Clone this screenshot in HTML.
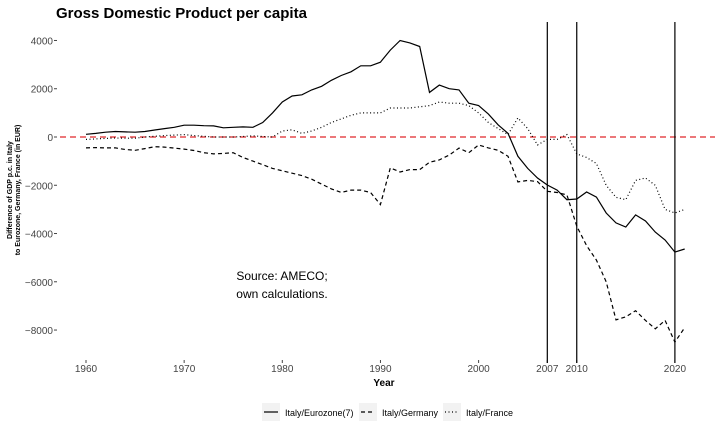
<!DOCTYPE html>
<html><head><meta charset="utf-8"><style>
body{margin:0;background:#fff;font-family:"Liberation Sans",sans-serif}
svg{display:block}
</style></head><body>
<svg id="chart" width="720" height="432" xmlns="http://www.w3.org/2000/svg" font-family="Liberation Sans, sans-serif">
<text x="56" y="18" font-size="15" font-weight="bold">Gross Domestic Product per capita</text>
<g id="axes"></g>
<g id="lines"></g>
<text x="282" y="280" font-size="12" text-anchor="middle">Source: AMECO;</text>
<text x="282" y="298" font-size="12" text-anchor="middle">own calculations.</text>
<text x="384" y="386" font-size="10" font-weight="bold" text-anchor="middle">Year</text>
<g transform="translate(12,190) rotate(-90)">
<text x="0" y="0" font-size="7" font-weight="bold" text-anchor="middle">Difference of GDP p.c. in Italy</text>
<text x="0" y="8" font-size="7" font-weight="bold" text-anchor="middle">to Eurozone, Germany, France (in EUR)</text>
</g>
<g>
<g><rect x="262" y="403" width="18" height="18" fill="#f2f2f2"/><line x1="264" y1="412" x2="278" y2="412" stroke="#000" stroke-width="1.2"/><text x="285" y="416" font-size="9">Italy/Eurozone(7)</text></g>
<g><rect x="359" y="403" width="18" height="18" fill="#f2f2f2"/><line x1="361" y1="412" x2="375" y2="412" stroke="#000" stroke-width="1.2" stroke-dasharray="4,3"/><text x="382" y="416" font-size="9">Italy/Germany</text></g>
<g><rect x="443" y="403" width="18" height="18" fill="#f2f2f2"/><line x1="445" y1="412" x2="459" y2="412" stroke="#000" stroke-width="1.2" stroke-dasharray="1,2.5"/><text x="466" y="416" font-size="9">Italy/France</text></g>
</g>
</svg>
<script>
const years=[];for(let y=1960;y<=2021;y++)years.push(y);
const eurozone=[110,150,200,230,210,200,230,290,350,400,490,490,470,460,380,400,420,400,600,1000,1450,1700,1750,1950,2100,2350,2550,2700,2950,2950,3100,3600,4000,3900,3750,1850,2150,2000,1950,1400,1300,950,500,150,-800,-1300,-1700,-1990,-2200,-2600,-2570,-2280,-2490,-3150,-3560,-3730,-3230,-3480,-3940,-4270,-4770,-4640];
const germany=[-450,-440,-450,-450,-520,-550,-480,-400,-420,-460,-500,-560,-650,-700,-680,-650,-850,-1000,-1150,-1300,-1400,-1500,-1600,-1750,-1950,-2150,-2300,-2200,-2200,-2300,-2800,-1280,-1450,-1350,-1350,-1050,-950,-750,-460,-650,-330,-450,-550,-800,-1860,-1800,-1850,-2250,-2300,-2400,-3700,-4500,-5100,-6000,-7580,-7450,-7200,-7600,-7950,-7600,-8500,-7900];
const france=[-100,-80,-60,-40,-50,-50,0,30,60,80,100,60,30,0,0,0,20,50,20,0,250,300,150,250,400,600,750,900,1000,1000,1000,1200,1200,1200,1250,1300,1450,1400,1400,1300,1000,600,350,100,790,350,-330,-100,-100,100,-700,-850,-1100,-2000,-2500,-2600,-1800,-1700,-2000,-3000,-3150,-3000];
const yTicks=[4000,2000,0,-2000,-4000,-6000,-8000];
const xTicks=[1960,1970,1980,1990,2000,2007,2010,2020];
const vLines=[2007,2010,2020];
const X=y=>86+(y-1960)*9.815;
const Y=v=>137-v*0.02413;
const NS="http://www.w3.org/2000/svg";
const axes=document.getElementById('axes'),lines=document.getElementById('lines');
function mk(tag,attrs,parent){const e=document.createElementNS(NS,tag);for(const k in attrs)e.setAttribute(k,attrs[k]);parent.appendChild(e);return e;}
yTicks.forEach(v=>{
 const t=mk('text',{x:53,y:Y(v)+4,'font-size':10,'text-anchor':'end',fill:'#444'},axes);t.textContent=v<0?'\u2212'+(-v):String(v);
 
 
 const l=mk('line',{x1:54,x2:57,y1:Y(v),y2:Y(v),stroke:'#444'},axes);
 
 
});
xTicks.forEach(v=>{
 const t=mk('text',{x:X(v),y:372,'font-size':10,'text-anchor':'middle',fill:'#444'},axes);t.textContent=v;
 
 
 const l=mk('line',{x1:X(v),x2:X(v),y1:360,y2:363,stroke:'#444'},axes);
 
 
});
const zl=mk('line',{x1:60,x2:715,y1:Y(0),y2:Y(0),stroke:'#e0282a','stroke-width':1.2,'stroke-dasharray':'6,4'},lines);


vLines.forEach(v=>{
 const l=mk('line',{x1:X(v),x2:X(v),y1:22,y2:363,stroke:'#000','stroke-width':1.2},lines);
 
 
});
function series(vals,dash,name){
 const d=vals.map((v,i)=>(i?'L':'M')+X(years[i]).toFixed(1)+','+Y(v).toFixed(1)).join('');
 const p=mk('path',{d:d,fill:'none',stroke:'#000','stroke-width':1.2,'stroke-dasharray':dash},lines);
 
 
}
series(eurozone,'none','line-eurozone');
series(germany,'4,3','line-germany');
series(france,'1,2.5','line-france');
</script>
</body></html>
